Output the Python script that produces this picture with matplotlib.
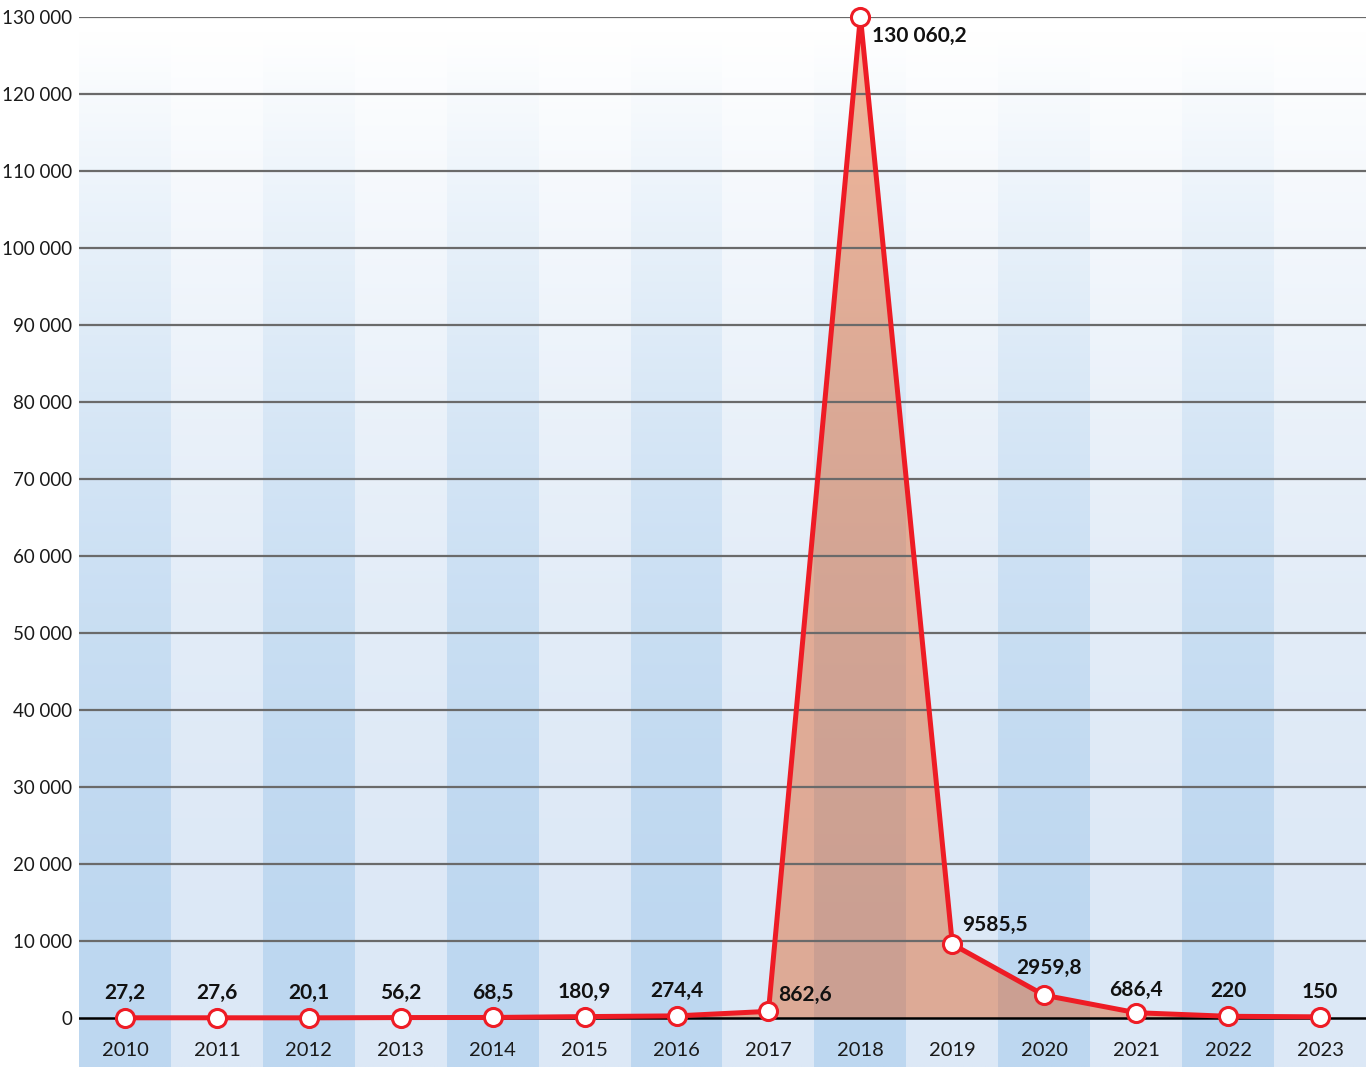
import matplotlib.pyplot as plt
import numpy as np

years = [2010, 2011, 2012, 2013, 2014, 2015, 2016, 2017, 2018, 2019, 2020, 2021, 2022, 2023]
values = [27.2, 27.6, 20.1, 56.2, 68.5, 180.9, 274.4, 862.6, 130060.2, 9585.5, 2959.8, 686.4, 220, 150]
yticks = list(range(0, 130001, 10000))


def fmt_num(v):
    # space as thousands separator only from 5 digits on, comma as decimal mark
    if float(v).is_integer():
        s = str(int(v))
    else:
        s = f"{v:.1f}".replace('.', ',')
    whole, _, frac = s.partition(',')
    if len(whole) > 4:
        whole = f"{int(whole):,}".replace(',', ' ')
    return whole + (',' + frac if frac else '')


plt.rcParams['font.family'] = ['Lato', 'DejaVu Sans']

fig = plt.figure(figsize=(13.72, 10.67), dpi=100)
ax = fig.add_axes([79 / 1372, 0, (1366 - 79) / 1372, 1 - 17 / 1067])

ymin = -49 * 130000 / 1001
ymax = 130000
ax.set_xlim(-0.5, len(years) - 0.5)
ax.set_ylim(ymin, ymax)

# background bands with vertical gradient to white
dark = np.array([189, 215, 240]) / 255
light = np.array([220, 232, 246]) / 255
grad_top = 128300
t = np.linspace(0, 1, 256)[:, None] ** 2
for i in range(len(years)):
    base = dark if i % 2 == 0 else light
    col = base[None, :] * (1 - t) + t
    ax.imshow(col[:, None, :], extent=[i - 0.5, i + 0.5, ymin, grad_top], origin='lower',
              aspect='auto', zorder=0, interpolation='bilinear')

x = np.arange(len(years))
ax.fill_between(x, values, 0, color='#E14D06', alpha=0.4, linewidth=0, zorder=1)

for v in yticks[1:]:
    ax.axhline(v, color='#6a6a6a', linewidth=1.6, zorder=2)
ax.axhline(0, color='black', linewidth=1.8, zorder=2)

ax.plot(x, values, color='#EE1C25', linewidth=3.6, zorder=3, clip_on=False,
        marker='o', markersize=13, markerfacecolor='white', markeredgecolor='#EE1C25',
        markeredgewidth=2.2)

special = {7: (7, 11.5, 'left'), 8: (8.6, -13.7, 'left'), 9: (7, 14, 'left'),
           10: (3.6, 19.5, 'center'), 11: (0, 16.5, 'center')}
for i, v in enumerate(values):
    dx, dy, ha = special.get(i, (0, 18, 'center'))
    ax.annotate(fmt_num(v), (i, v), xytext=(dx, dy), textcoords='offset points',
                ha=ha, va='center', fontsize=15, fontweight='bold', color='#111111', zorder=4)

for i, yr in enumerate(years):
    ax.text(i, -4200, str(yr), ha='center', va='center', fontsize=14.5, color='#1a1a1a', zorder=4)

ax.set_yticks(yticks)
ax.set_yticklabels([fmt_num(v) if v < 10000 else f"{v:,}".replace(',', ' ') for v in yticks],
                   fontsize=13.5, color='#1a1a1a')
ax.set_xticks([])
ax.tick_params(axis='y', length=0, pad=5)
for s in ax.spines.values():
    s.set_visible(False)

fig.savefig('out.png', dpi=100)
